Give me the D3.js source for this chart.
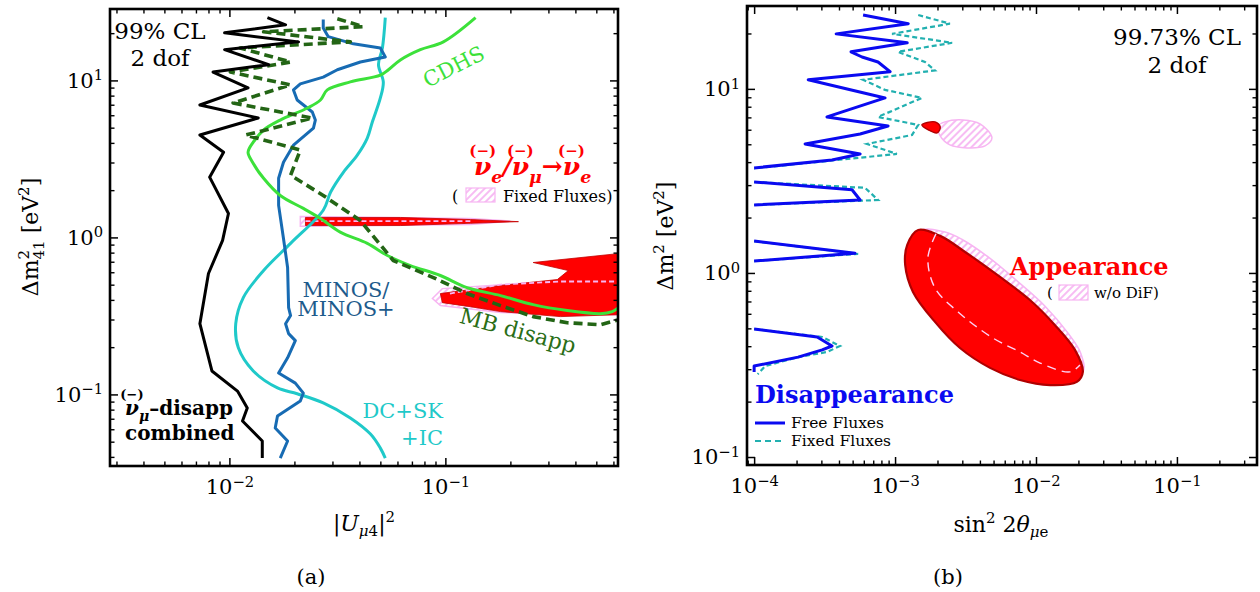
<!DOCTYPE html>
<html>
<head>
<meta charset="utf-8">
<script src="https://cdn.jsdelivr.net/npm/d3@7"></script>
<style>
  body { margin: 0; background: #fff; }
  svg { display: block; }
  text { font-family: "DejaVu Serif", serif; }
</style>
</head>
<body>
<div id="chart"></div>
<script>
// ---------- panel (a): |U_mu4|^2 vs dm41^2 (99% CL) ----------
const combinedDisapp = [[0.0150,25.1],[0.0182,22.6],[0.0095,20.1],[0.0209,17.6],[0.0095,15.7],[0.0152,12.6],[0.0084,11.3],[0.0122,8.96],[0.0073,6.97],[0.0136,5.76],[0.0073,4.49],[0.0094,3.49],[0.0081,2.42],[0.0099,1.42],[0.0093,0.957],[0.0080,0.589],[0.0073,0.282],[0.0083,0.141],[0.0109,0.105],[0.0121,0.082],[0.0115,0.0677],[0.0142,0.0505],[0.0142,0.0393]];
const minos = [[0.0272,24.4],[0.0272,21.6],[0.0287,19.0],[0.0375,17.1],[0.050,16.1],[0.0527,14.1],[0.0404,13.1],[0.0316,11.7],[0.0272,10.5],[0.0213,9.5],[0.0198,8.7],[0.0206,7.5],[0.0242,6.29],[0.0250,5.59],[0.0245,4.97],[0.0198,3.87],[0.0178,3.01],[0.0169,2.38],[0.0169,1.60],[0.0178,0.985],[0.0186,0.643],[0.0188,0.357],[0.0192,0.318],[0.0182,0.282],[0.0188,0.244],[0.0202,0.220],[0.0186,0.171],[0.0169,0.137],[0.0202,0.118],[0.0220,0.102],[0.0213,0.0909],[0.0167,0.0729],[0.0163,0.0611],[0.0186,0.0505],[0.0172,0.0393]];
const dcSkIc = [[0.0527,25.1],[0.0511,16.1],[0.0490,12.6],[0.0516,9.78],[0.050,7.73],[0.0459,5.43],[0.0435,4.29],[0.0391,3.34],[0.0337,2.60],[0.0294,1.94],[0.0272,1.49],[0.0192,0.916],[0.0144,0.615],[0.0116,0.414],[0.0107,0.282],[0.0110,0.198],[0.0129,0.141],[0.0167,0.110],[0.0206,0.101],[0.0272,0.0883],[0.0363,0.0708],[0.0450,0.0559],[0.050,0.0455],[0.0527,0.0393]];
const cdhs = [[0.138,25.1],[0.0979,17.6],[0.0766,15.7],[0.0619,13.5],[0.0545,11.7],[0.050,10.8],[0.0363,9.78],[0.0284,8.7],[0.0264,7.5],[0.0230,6.67],[0.0172,5.59],[0.0144,4.83],[0.0129,4.05],[0.0122,3.49],[0.0128,3.01],[0.0144,2.38],[0.0172,1.85],[0.0220,1.53],[0.0264,1.32],[0.0326,1.08],[0.0435,0.916],[0.0539,0.767],[0.0688,0.662],[0.0948,0.572],[0.126,0.479],[0.180,0.426],[0.255,0.373],[0.367,0.342],[0.522,0.327],[0.593,0.337],[0.64,0.36]];
const mbDisapp = [[0.0316,24.7],[0.0417,22.0],[0.0144,20.4],[0.0363,17.6],[0.0112,16.1],[0.0192,13.1],[0.0101,11.3],[0.0192,9.36],[0.0104,7.18],[0.0242,5.76],[0.0119,4.49],[0.0213,3.60],[0.0192,2.49],[0.0272,1.85],[0.0404,1.28],[0.0574,0.713],[0.088,0.555],[0.126,0.439],[0.180,0.368],[0.255,0.313],[0.367,0.286],[0.522,0.278],[0.64,0.30]];
// appearance regions (free fluxes = red, fixed fluxes = pink)
const appSliver = [[0.0225,1.34],[0.0619,1.34],[0.1305,1.30],[0.218,1.26],[0.1305,1.23],[0.0619,1.19],[0.0225,1.19]];
const appSliverFixed = [[0.0213,1.36],[0.1305,1.32],[0.20,1.27],[0.1305,1.21],[0.0213,1.18]];
const appSliverFixedEdge = [[0.0225,1.27],[0.1305,1.27]];
const appRegion = [[0.255,0.692],[0.64,0.79],[0.64,0.322],[0.341,0.313],[0.180,0.337],[0.1305,0.362],[0.0968,0.384],[0.0948,0.439],[0.180,0.494],[0.330,0.539],[0.371,0.615]];
const appRegionFixed = [[0.0871,0.408],[0.0968,0.472],[0.222,0.508],[0.64,0.547],[0.64,0.322],[0.180,0.332],[0.0948,0.368]];
const appRegionFixedEdge = [[0.105,0.439],[0.180,0.501],[0.341,0.524],[0.64,0.524]];
const ticksA = {x: [0.01, 0.1], y: [0.1, 1, 10]};

// ---------- panel (b): sin^2 2theta_mue vs dm^2 (99.73% CL) ----------
const freeFluxes = [
  [[5.93e-4,25.2],[1.24e-3,22.6],[3.82e-4,19.9],[1.22e-3,17.8],[4.87e-4,15.9],[5.83e-4,14.9],[7.57e-4,14.0],[9.22e-4,12.4],[2.42e-4,11.2],[8.49e-4,8.93],[3.29e-4,7.04],[8.92e-4,6.29],[5.65e-4,5.69],[2.30e-4,5.02],[5.65e-4,4.43],[3.57e-4,4.11],[1e-4,3.72]],
  [[1e-4,3.12],[4.95e-4,2.83],[5.65e-4,2.49],[1e-4,2.34]],
  [[1e-4,1.49],[5.20e-4,1.28],[1e-4,1.16]],
  [[1e-4,0.496],[2.80e-4,0.449],[3.57e-4,0.401],[3.04e-4,0.382],[2.05e-4,0.349],[1e-4,0.312],[1e-4,0.290]]
];
const fixedFluxes = [
  [[1.46e-3,25.2],[2.45e-3,22.6],[9.52e-4,19.9],[2.54e-3,17.8],[1.05e-3,15.9],[1.63e-3,14.0],[1.92e-3,12.6],[5.93e-4,11.2],[8.49e-4,9.88],[1.55e-3,8.93],[7.57e-4,7.04],[1.46e-3,6.37],[1.32e-3,5.62],[6.33e-4,5.02],[1.03e-3,4.43],[1e-4,3.70]],
  [[1e-4,3.12],[6.13e-4,2.90],[7.57e-4,2.49],[1e-4,2.34]],
  [[1e-4,1.49],[5.47e-4,1.27],[1e-4,1.16]],
  [[1e-4,0.496],[3.04e-4,0.449],[4.07e-4,0.401],[3.29e-4,0.372],[2.05e-4,0.349],[1.20e-4,0.312],[1.06e-4,0.282]]
];
const appDot = [[1.55e-3,6.37],[1.92e-3,6.62],[2.09e-3,6.22],[1.99e-3,5.77]];
const appDotNoDif = [[2.02e-3,6.29],[2.26e-3,6.62],[3.04e-3,6.78],[4.01e-3,6.45],[4.87e-3,5.42],[4.35e-3,4.90],[3.24e-3,4.78],[2.45e-3,4.96],[2.09e-3,5.55]];
const appMain = [[1.46e-3,1.71],[2.09e-3,1.59],[3.14e-3,1.30],[5.56e-3,0.951],[9.06e-3,0.713],[1.36e-2,0.522],[1.89e-2,0.382],[2.15e-2,0.290],[1.95e-2,0.256],[1.26e-2,0.246],[7.70e-3,0.262],[4.72e-3,0.305],[2.89e-3,0.391],[1.92e-3,0.542],[1.34e-3,0.789],[1.18e-3,1.105],[1.22e-3,1.42]];
const appMainNoDif = [[1.50e-3,1.69],[2.26e-3,1.67],[2.99e-3,1.52],[4.72e-3,1.20],[7.10e-3,0.925],[1.16e-2,0.660],[1.69e-2,0.470],[2.08e-2,0.365],[2.15e-2,0.290],[1.26e-2,0.246],[2.89e-3,0.391],[1.18e-3,1.105]];
const appMainFixed = [[1.95e-3,1.63],[1.71e-3,1.21],[1.92e-3,0.829],[2.80e-3,0.614],[4.95e-3,0.443],[7.70e-3,0.372],[1.07e-2,0.324],[1.74e-2,0.290],[2.05e-2,0.316]];
const ticksB = {x: [1e-4, 1e-3, 1e-2, 1e-1], y: [0.1, 1, 10]};

const PINK = "#f7b5f2", RED = "#ff0000";

const svg = d3.select("#chart").append("svg")
  .attr("width", 1260).attr("height", 592)
  .style("background", "#fff");

const defs = svg.append("defs");
const hatch = defs.append("pattern")
  .attr("id", "hatch").attr("patternUnits", "userSpaceOnUse")
  .attr("width", 5).attr("height", 5)
  .attr("patternTransform", "rotate(45)");
hatch.append("rect").attr("width", 5).attr("height", 5).attr("fill", "#fff");
hatch.append("line").attr("x1", 1).attr("x2", 1).attr("y1", 0).attr("y2", 5)
  .attr("stroke", PINK).attr("stroke-width", 1.8);

/* Scales: both panels are log-log */
const boxA = {x0: 110, x1: 618, y0: 9, y1: 466};
const boxB = {x0: 747, x1: 1257, y0: 6, y1: 465};
const xA = d3.scaleLog().domain([0.0028, 0.63]).range([boxA.x0, boxA.x1]);
const yA = d3.scaleLog().domain([0.035, 28.5]).range([boxA.y1, boxA.y0]);
const xB = d3.scaleLog().domain([8.9e-5, 0.37]).range([boxB.x0, boxB.x1]);
const yB = d3.scaleLog().domain([0.0905, 28.2]).range([boxB.y1, boxB.y0]);

function clip(id, box) {
  defs.append("clipPath").attr("id", id).append("rect")
    .attr("x", box.x0).attr("y", box.y0)
    .attr("width", box.x1 - box.x0).attr("height", box.y1 - box.y0);
}
clip("clipA", boxA);
clip("clipB", boxB);

const expLabel = (sel) => sel.each(function(d) {
  const t = d3.select(this).text(null);
  t.append("tspan").text("10");
  t.append("tspan").attr("dy", "-0.5em").attr("font-size", "0.7em")
    .text(String(Math.round(Math.log10(d))).replace("-", "\u2212"));
});

function drawFrame(box, x, y, majors) {
  const g = svg.append("g");
  const minorX = x.ticks().filter(v => !majors.x.some(m => Math.abs(m - v) / m < 1e-6));
  const minorY = y.ticks().filter(v => !majors.y.some(m => Math.abs(m - v) / m < 1e-6));
  const sides = [
    [d3.axisBottom, x, `translate(0,${box.y1})`, majors.x, minorX, true],
    [d3.axisTop, x, `translate(0,${box.y0})`, majors.x, minorX, false],
    [d3.axisLeft, y, `translate(${box.x0},0)`, majors.y, minorY, true],
    [d3.axisRight, y, `translate(${box.x1},0)`, majors.y, minorY, false]
  ];
  sides.forEach(([axis, s, tr, maj, min, labels]) => {
    g.append("g").attr("transform", tr)
      .call(axis(s).tickValues(min).tickSize(-4.5).tickFormat(""))
      .call(a => a.select(".domain").remove())
      .selectAll("line").attr("stroke-width", 1.4);
    const ga = g.append("g").attr("transform", tr)
      .call(axis(s).tickValues(maj).tickSize(-8).tickPadding(labels ? (axis === d3.axisLeft ? 7 : 13) : 3))
      .call(a => a.select(".domain").remove())
      .attr("font-family", null).attr("font-size", 21);
    ga.selectAll("line").attr("stroke-width", 1.5);
    if (labels) ga.selectAll(".tick text").attr("fill", "#000").call(expLabel);
    else ga.selectAll(".tick text").remove();
  });
  g.append("rect")
    .attr("x", box.x0).attr("y", box.y0)
    .attr("width", box.x1 - box.x0).attr("height", box.y1 - box.y0)
    .attr("fill", "none").attr("stroke", "#000").attr("stroke-width", 2.6);
}

// Text with "(−)" bars over chosen characters
function richText(parent, x, y, parts, attrs, barOffset, barSize) {
  const t = parent.append("text").attr("x", x).attr("y", y);
  Object.entries(attrs).forEach(([k, v]) => t.attr(k, v));
  let shift = 0, idx = 0;
  const bars = [];
  parts.forEach(p => {
    const target = p.sub ? 0.3 : p.sup ? -0.45 : 0;
    const ts = t.append("tspan").text(p.t);
    const fs = +attrs["font-size"];
    if (target !== shift) ts.attr("dy", ((target - shift) * fs).toFixed(1));
    shift = target;
    if (p.sub || p.sup) ts.attr("font-size", fs * 0.7);
    if (p.italic) ts.attr("font-style", "italic");
    if (p.upright) ts.attr("font-style", "normal");
    if (p.dx) ts.attr("dx", p.dx);
    if (p.bar) bars.push(idx);
    idx += p.t.length;
  });
  const node = t.node();
  bars.forEach(i => {
    const e = node.getExtentOfChar(i);
    parent.append("text")
      .attr("x", e.x + e.width / 2).attr("y", y - barOffset)
      .attr("text-anchor", "middle")
      .attr("font-size", barSize).attr("font-weight", "bold")
      .attr("fill", attrs.fill)
      .text("(\u2212)");
  });
  return t;
}

const lineA = d3.line().x(d => xA(d[0])).y(d => yA(d[1]));
const smoothA = d3.line().x(d => xA(d[0])).y(d => yA(d[1])).curve(d3.curveCatmullRom.alpha(0.5));
const areaA = d3.line().x(d => xA(d[0])).y(d => yA(d[1])).curve(d3.curveLinearClosed);
const lineB = d3.line().x(d => xB(d[0])).y(d => yB(d[1]));
const blobB = d3.line().x(d => xB(d[0])).y(d => yB(d[1])).curve(d3.curveCatmullRomClosed.alpha(0.5));
const smoothB = d3.line().x(d => xB(d[0])).y(d => yB(d[1])).curve(d3.curveCatmullRom.alpha(0.5));

/* ----- Panel (a) ----- */
const pA = svg.append("g").attr("clip-path", "url(#clipA)");
[appSliverFixed, appRegionFixed].forEach(d => {
  pA.append("path").attr("d", areaA(d)).attr("fill", "url(#hatch)")
    .attr("stroke", PINK).attr("stroke-width", 1.5);
});
[appSliver, appRegion].forEach(d => {
  pA.append("path").attr("d", areaA(d)).attr("fill", RED)
    .attr("stroke", "#c40000").attr("stroke-width", 0.8);
});
[appSliverFixedEdge, appRegionFixedEdge].forEach(d => {
  pA.append("path").attr("d", lineA(d)).attr("fill", "none")
    .attr("stroke", PINK).attr("stroke-width", 1.8).attr("stroke-dasharray", "5,3");
});

const curvesA = [
  {d: dcSkIc, color: "#1fc9c9", gen: smoothA},
  {d: minos, color: "#176bb3", gen: lineA},
  {d: cdhs, color: "#3ce13a", gen: smoothA},
  {d: mbDisapp, color: "#236515", gen: lineA, dash: "9,5", w: 3.6},
  {d: combinedDisapp, color: "#000", gen: lineA}
];
curvesA.forEach(c => {
  pA.append("path").attr("d", c.gen(c.d)).attr("fill", "none")
    .attr("stroke", c.color).attr("stroke-width", c.w || 3)
    .attr("stroke-linejoin", "round")
    .attr("stroke-dasharray", c.dash || null);
});

drawFrame(boxA, xA, yA, ticksA);

const labA = svg.append("g");
labA.append("text").attr("x", 160).attr("y", 39).attr("text-anchor", "middle").attr("font-size", 23).text("99% CL");
labA.append("text").attr("x", 160).attr("y", 66).attr("text-anchor", "middle").attr("font-size", 23).text("2 dof");
labA.append("text").attr("transform", "translate(457,73) rotate(-27)").attr("text-anchor", "middle")
  .attr("font-size", 21).attr("fill", "#3ce13a").text("CDHS");
labA.append("text").attr("x", 346).attr("y", 297).attr("text-anchor", "middle").attr("font-size", 21).attr("fill", "#1d5b8c").text("MINOS/");
labA.append("text").attr("x", 346).attr("y", 316).attr("text-anchor", "middle").attr("font-size", 21).attr("fill", "#1d5b8c").text("MINOS+");
labA.append("text").attr("x", 443).attr("y", 418).attr("text-anchor", "end").attr("font-size", 21).attr("fill", "#1fc9c9").text("DC+SK");
labA.append("text").attr("x", 443).attr("y", 445).attr("text-anchor", "end").attr("font-size", 21).attr("fill", "#1fc9c9").text("+IC");
labA.append("text").attr("transform", "translate(516,338) rotate(15)").attr("text-anchor", "middle")
  .attr("font-size", 22).attr("fill", "#2a6e16").text("MB disapp");

richText(labA, 474, 175, [
  {t: "\u03bd", bar: true}, {t: "e", sub: true}, {t: "/"},
  {t: "\u03bd", bar: true}, {t: "\u03bc", sub: true}, {t: "\u2192", upright: true},
  {t: "\u03bd", bar: true}, {t: "e", sub: true}
], {"font-size": 25, "font-weight": "bold", "font-style": "italic", fill: RED}, 19, 15);

labA.append("text").attr("x", 452).attr("y", 202).attr("font-size", 16).text("(");
labA.append("rect").attr("x", 466).attr("y", 188).attr("width", 29).attr("height", 14)
  .attr("fill", "url(#hatch)").attr("stroke", PINK).attr("stroke-width", 1.2);
labA.append("text").attr("x", 503).attr("y", 202).attr("font-size", 16).text("Fixed Fluxes)");

richText(labA, 125, 415, [
  {t: "\u03bd", bar: true, italic: true}, {t: "\u03bc", sub: true, italic: true}, {t: "\u2013disapp"}
], {"font-size": 20, "font-weight": "bold", fill: "#000"}, 16, 13);
labA.append("text").attr("x", 125).attr("y", 440).attr("font-size", 20).attr("font-weight", "bold").text("combined");

// axis titles (a)
const yTitleA = labA.append("text").attr("transform", "translate(38,237) rotate(-90)")
  .attr("text-anchor", "middle").attr("font-size", 22);
yTitleA.append("tspan").text("\u0394m");
yTitleA.append("tspan").attr("font-size", 15).attr("dy", -9).text("2");
yTitleA.append("tspan").attr("font-size", 15).attr("dx", -9.5).attr("dy", 15).text("41");
yTitleA.append("tspan").attr("dy", -6).text(" [eV");
yTitleA.append("tspan").attr("font-size", 15).attr("dy", -9).text("2");
yTitleA.append("tspan").attr("dy", 9).text("]");

const xTitleA = labA.append("text").attr("x", 364).attr("y", 531)
  .attr("text-anchor", "middle").attr("font-size", 22);
xTitleA.append("tspan").text("|");
xTitleA.append("tspan").attr("font-style", "italic").text("U");
xTitleA.append("tspan").attr("font-size", 15).attr("dy", 5).attr("font-style", "italic").text("\u03bc");
xTitleA.append("tspan").attr("font-size", 15).text("4");
xTitleA.append("tspan").attr("dy", -5).text("|");
xTitleA.append("tspan").attr("font-size", 15).attr("dy", -9).text("2");

labA.append("text").attr("x", 311).attr("y", 584).attr("text-anchor", "middle").attr("font-size", 21).text("(a)");

/* ----- Panel (b) ----- */
const pB = svg.append("g").attr("clip-path", "url(#clipB)");
[appMainNoDif, appDotNoDif].forEach(d => {
  pB.append("path").attr("d", blobB(d)).attr("fill", "url(#hatch)")
    .attr("stroke", PINK).attr("stroke-width", 1.5);
});
pB.append("path").attr("d", blobB(appMain)).attr("fill", RED)
  .attr("stroke", "#b00000").attr("stroke-width", 2.2);
pB.append("path").attr("d", blobB(appDot)).attr("fill", RED)
  .attr("stroke", "#b00000").attr("stroke-width", 1.5);
pB.append("path").attr("d", smoothB(appMainFixed)).attr("fill", "none")
  .attr("stroke", "#fbd3f6").attr("stroke-width", 1.4).attr("stroke-dasharray", "9,6");

fixedFluxes.forEach(d => {
  pB.append("path").attr("d", lineB(d)).attr("fill", "none")
    .attr("stroke", "#22b0b0").attr("stroke-width", 2.2).attr("stroke-dasharray", "5,3");
});
freeFluxes.forEach(d => {
  pB.append("path").attr("d", lineB(d)).attr("fill", "none")
    .attr("stroke", "#0a0af0").attr("stroke-width", 3).attr("stroke-linejoin", "round");
});

drawFrame(boxB, xB, yB, ticksB);

const labB = svg.append("g");
labB.append("text").attr("x", 1177).attr("y", 45).attr("text-anchor", "middle").attr("font-size", 23).text("99.73% CL");
labB.append("text").attr("x", 1177).attr("y", 73).attr("text-anchor", "middle").attr("font-size", 23).text("2 dof");

labB.append("text").attr("x", 1010).attr("y", 275).attr("font-size", 24).attr("font-weight", "bold")
  .attr("fill", RED).text("Appearance");
labB.append("text").attr("x", 1047).attr("y", 298).attr("font-size", 15).text("(");
labB.append("rect").attr("x", 1059).attr("y", 285).attr("width", 29).attr("height", 15)
  .attr("fill", "url(#hatch)").attr("stroke", PINK).attr("stroke-width", 1.2);
labB.append("text").attr("x", 1094).attr("y", 298).attr("font-size", 15).text("w/o DiF)");

labB.append("text").attr("x", 755).attr("y", 403).attr("font-size", 24).attr("font-weight", "bold")
  .attr("fill", "#0a0af0").text("Disappearance");
labB.append("line").attr("x1", 755).attr("x2", 785).attr("y1", 423).attr("y2", 423)
  .attr("stroke", "#0a0af0").attr("stroke-width", 3);
labB.append("text").attr("x", 791).attr("y", 428).attr("font-size", 15.5).text("Free Fluxes");
labB.append("line").attr("x1", 755).attr("x2", 785).attr("y1", 441).attr("y2", 441)
  .attr("stroke", "#22b0b0").attr("stroke-width", 1.8).attr("stroke-dasharray", "6,4");
labB.append("text").attr("x", 791).attr("y", 446).attr("font-size", 15.5).text("Fixed Fluxes");

const yTitleB = labB.append("text").attr("transform", "translate(673,236) rotate(-90)")
  .attr("text-anchor", "middle").attr("font-size", 22);
yTitleB.append("tspan").text("\u0394m");
yTitleB.append("tspan").attr("font-size", 15).attr("dy", -9).text("2");
yTitleB.append("tspan").attr("dy", 9).text(" [eV");
yTitleB.append("tspan").attr("font-size", 15).attr("dy", -9).text("2");
yTitleB.append("tspan").attr("dy", 9).text("]");

const xTitleB = labB.append("text").attr("x", 1001).attr("y", 532)
  .attr("text-anchor", "middle").attr("font-size", 22);
xTitleB.append("tspan").text("sin");
xTitleB.append("tspan").attr("font-size", 15).attr("dy", -9).text("2");
xTitleB.append("tspan").attr("dy", 9).text(" 2");
xTitleB.append("tspan").attr("font-style", "italic").text("\u03b8");
xTitleB.append("tspan").attr("font-size", 15).attr("dy", 5).attr("font-style", "italic").text("\u03bc");
xTitleB.append("tspan").attr("font-size", 15).text("e");

labB.append("text").attr("x", 948).attr("y", 584).attr("text-anchor", "middle").attr("font-size", 21).text("(b)");
</script>
</body>
</html>
